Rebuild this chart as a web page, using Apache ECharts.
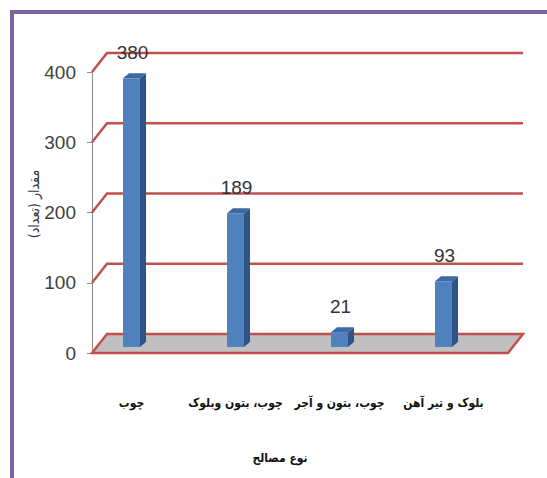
<!DOCTYPE html>
<html><head><meta charset="utf-8">
<script src="https://cdn.jsdelivr.net/npm/echarts@6/dist/echarts.min.js"></script>
<style>html,body{margin:0;padding:0;background:#fff}#c{width:547px;height:478px}</style>
</head><body><div id="c"></div>
<script>
const categories = ['چوب', 'چوب، بتون وبلوک', 'چوب، بتون و آجر', 'بلوک و تیر آهن'];
const values = [380, 189, 21, 93];
const yTicks = [0, 100, 200, 300, 400];
const yTitle = 'مقدار (تعداد)';
const xTitle = 'نوع مصالح';

const DX = 15, DY = -19;   // back wall offset
const BDX = 6, BDY = -5;   // bar depth
const RED = '#c0504d';
const NUM_FONT = "'Liberation Sans Narrow','Liberation Sans',sans-serif";
const AR_FONT = "'DejaVu Sans Condensed','DejaVu Sans',sans-serif";

const chart = echarts.init(document.getElementById('c'), null, {renderer: 'svg'});
chart.setOption({
  backgroundColor: '#fff',
  animation: false,
  grid: [
    {left: 92, right: 39, top: 72, bottom: 125},
    {left: 79.5, right: 51.5, top: 64, bottom: 131}
  ],
  xAxis: [
    {gridIndex: 0, type: 'value', min: 0, max: 1, show: false},
    {gridIndex: 1, type: 'category', data: categories,
     axisLine: {show: false}, axisTick: {show: false},
     axisLabel: {interval: 0, margin: 50, fontFamily: AR_FONT, fontWeight: 'bold', fontSize: 12, color: '#111'}}
  ],
  yAxis: [
    {gridIndex: 0, type: 'value', min: 0, max: 400, interval: 100,
     axisLine: {show: true, lineStyle: {color: '#8c8c8c'}},
     axisTick: {show: true, length: 5, lineStyle: {color: '#8c8c8c'}},
     axisLabel: {margin: 16, fontFamily: NUM_FONT, fontSize: 19, color: '#404040'},
     splitLine: {show: false}},
    {gridIndex: 1, type: 'value', min: 0, max: 400, show: false}
  ],
  series: [
    {
      type: 'custom', xAxisIndex: 0, yAxisIndex: 0, silent: true,
      data: yTicks.map(v => [0, v]),
      renderItem: function (params, api) {
        const v = api.value(1);
        const p = api.coord([0, v]), q = api.coord([1, v]);
        if (v === 0) {
          return {type: 'polygon', shape: {points: [p, q, [q[0] + DX, q[1] + DY], [p[0] + DX, p[1] + DY]]},
                  style: {fill: '#c0c0c0', stroke: RED, lineWidth: 2.5}};
        }
        return {type: 'polyline', shape: {points: [p, [p[0] + DX, p[1] + DY], [q[0] + DX, q[1] + DY]]},
                style: {fill: null, stroke: RED, lineWidth: 2.5}};
      }
    },
    {
      type: 'custom', xAxisIndex: 1, yAxisIndex: 1,
      data: values.map((v, i) => [i, v]),
      renderItem: function (params, api) {
        const i = api.value(0), v = api.value(1);
        const b = api.coord([i, 0]), t = api.coord([i, v]);
        const w = 17, x0 = b[0] - w / 2, x1 = x0 + w;
        return {type: 'group', children: [
          {type: 'polygon', shape: {points: [[x1, t[1]], [x1 + BDX, t[1] + BDY], [x1 + BDX, b[1] + BDY], [x1, b[1]]]},
           style: {fill: '#2f5488'}},
          {type: 'polygon', shape: {points: [[x0, t[1]], [x1, t[1]], [x1 + BDX, t[1] + BDY], [x0 + BDX, t[1] + BDY]]},
           style: {fill: '#3c69a3'}},
          {type: 'rect', shape: {x: x0, y: t[1], width: w, height: b[1] - t[1]}, style: {fill: '#4f81bd'}},
          {type: 'text', x: (x0 + x1) / 2 + 1, y: t[1] - 26,
           style: {text: String(v), fill: '#333', font: '19px ' + NUM_FONT, align: 'center', verticalAlign: 'middle'}}
        ]};
      }
    }
  ],
  graphic: [
    {type: 'line', shape: {x1: 12, y1: 12, x2: 12, y2: 478}, style: {stroke: '#8064a2', lineWidth: 4}},
    {type: 'line', shape: {x1: 10, y1: 12, x2: 547, y2: 12}, style: {stroke: '#8064a2', lineWidth: 4}},
    {type: 'text', x: 34, y: 204, rotation: Math.PI / 2,
     style: {text: yTitle, font: '14px ' + AR_FONT, fill: '#333', align: 'center', verticalAlign: 'middle'}},
    {type: 'text', x: 280, y: 458,
     style: {text: xTitle, font: 'bold 12px ' + AR_FONT, fill: '#111', align: 'center', verticalAlign: 'middle'}}
  ]
});
</script>
</body></html>
